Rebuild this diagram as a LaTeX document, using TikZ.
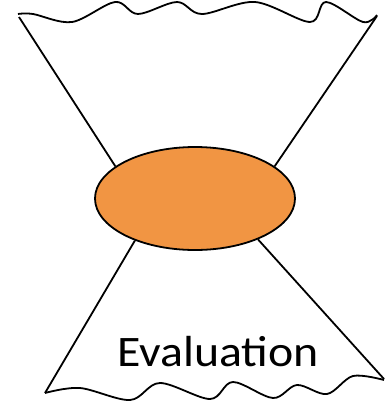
\documentclass[tikz,border=0pt]{standalone}
\usepackage{fontspec}
\setmainfont{Carlito}
\usetikzlibrary{shapes.geometric}
\definecolor{funnelorange}{RGB}{241,149,67}

\begin{document}
\begin{tikzpicture}[x=1pt, y=-1pt,
  edge/.style={draw=black, line width=1.8pt},
  wave/.style={edge, smooth, tension=0.55},
  core/.style={ellipse, draw=black, line width=1.8pt, fill=funnelorange, minimum width=200pt, minimum height=103pt, inner sep=0pt},
  label/.style={font=\fontsize{43.5}{50}\selectfont, anchor=base, inner sep=0pt, xscale=1.1}]
\useasboundingbox (0,0) rectangle (384,405);
% corners of the hourglass
\coordinate (tl) at (19,17);
\coordinate (tr) at (377,16);
\coordinate (bl) at (45,393);
\coordinate (br) at (384,379);
\node[core] (blob) at (195,198.5) {};
% sides
\draw[edge] (tl) -- (blob.158);
\draw[edge] (tr) -- (blob.22.7);
\draw[edge] (bl) -- (blob.215.7);
\draw[edge] (br) -- (blob.327.5);
% wavy rims
\draw[wave] plot coordinates {(18,14) (33,14) (72,22) (115,2) (138,14) (177,2) (202,14) (255,2) (310,22) (326,2) (363,22) (377,15)};
\draw[wave] plot coordinates {(45,393) (80,388) (130,400) (160,383) (210,399) (233,382) (273,398) (297,385) (327,394) (353,376) (384,380)};
\node[label] (txt) at (218,366) {Evaluation};
\end{tikzpicture}
\end{document}
